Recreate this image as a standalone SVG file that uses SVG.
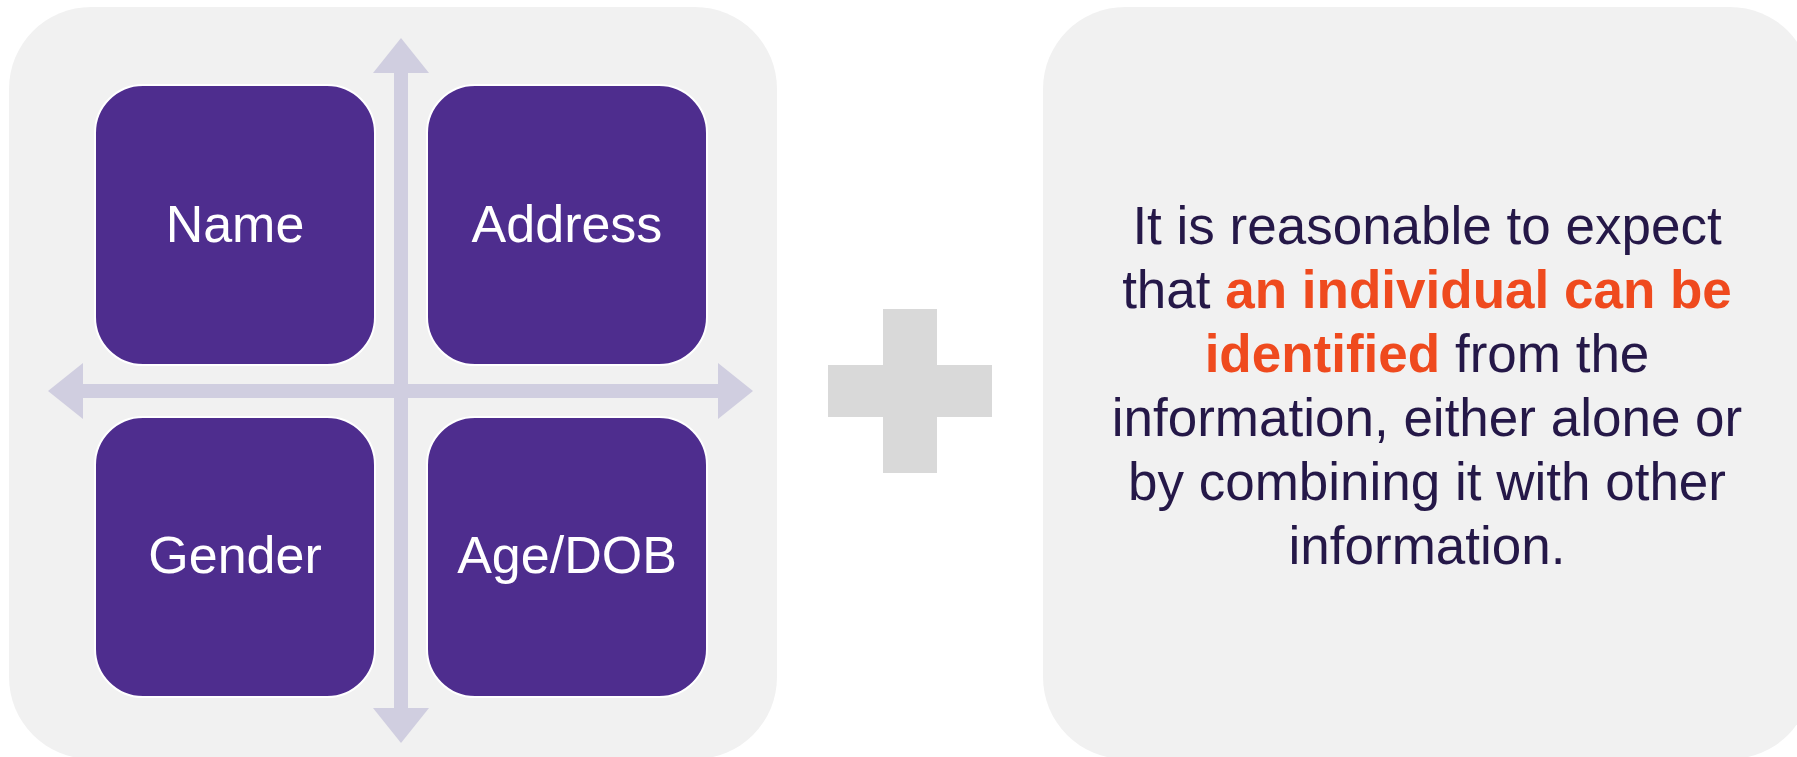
<svg xmlns="http://www.w3.org/2000/svg" width="1797" height="757" viewBox="0 0 1797 757">
<defs>
<style>
.panel{fill:#F1F1F1;}
.box{fill:#4E2D8E;stroke:#FFFFFF;stroke-width:2;}
.lbl{font-family:"Liberation Sans",Arial,sans-serif;font-size:52px;fill:#FFFFFF;text-anchor:middle;}
.axis{stroke:#D0CEE0;stroke-width:14;fill:none;marker-start:url(#head);marker-end:url(#head);}
.plus{fill:#D9D9D9;}
.body{font-family:"Liberation Sans",Arial,sans-serif;font-size:53px;fill:#251848;text-anchor:middle;}
.hl{font-weight:bold;fill:#EF4A1E;}
</style>
<marker id="head" markerUnits="userSpaceOnUse" viewBox="0 0 35 56" markerWidth="35" markerHeight="56" refX="0" refY="28" orient="auto-start-reverse">
<path d="M0,0 L35,28 L0,56 Z" fill="#D0CEE0"/>
</marker>
</defs>
<rect id="left-panel" class="panel" x="9" y="7" width="768" height="752" rx="82" ry="82"/>
<rect id="right-panel" class="panel" x="1043" y="7" width="769" height="752" rx="82" ry="82"/>
<g id="connectors">
<line class="axis" x1="401" y1="73" x2="401" y2="708"/>
<line class="axis" x1="83" y1="391" x2="718" y2="391"/>
</g>
<g id="name">
<rect class="box" x="95" y="85" width="280" height="280" rx="48" ry="48"/>
<text class="lbl" x="235" y="242">Name</text>
</g>
<g id="address">
<rect class="box" x="427" y="85" width="280" height="280" rx="48" ry="48"/>
<text class="lbl" x="567" y="242">Address</text>
</g>
<g id="gender">
<rect class="box" x="95" y="417" width="280" height="280" rx="48" ry="48"/>
<text class="lbl" x="235" y="573">Gender</text>
</g>
<g id="agedob">
<rect class="box" x="427" y="417" width="280" height="280" rx="48" ry="48"/>
<text class="lbl" x="567" y="573">Age/DOB</text>
</g>
<g id="plus">
<rect class="plus" x="883" y="309" width="54" height="164"/>
<rect class="plus" x="828" y="365" width="164" height="52"/>
</g>
<g id="statement">
<text class="body" x="1427" y="244">It is reasonable to expect</text>
<text class="body" x="1427" y="308">that <tspan class="hl">an individual can be</tspan></text>
<text class="body" x="1427" y="372"><tspan class="hl">identified</tspan> from the</text>
<text class="body" x="1427" y="436">information, either alone or</text>
<text class="body" x="1427" y="500">by combining it with other</text>
<text class="body" x="1427" y="564">information.</text>
</g>
</svg>
